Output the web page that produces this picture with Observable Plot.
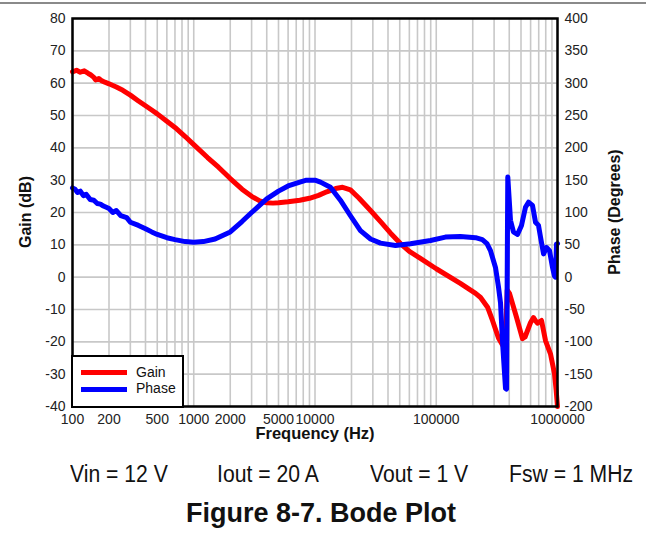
<!DOCTYPE html>
<html>
<head>
<meta charset="utf-8">
<script src="https://cdn.jsdelivr.net/npm/d3@7"></script>
<script src="https://cdn.jsdelivr.net/npm/@observablehq/plot@0.6"></script>
<style>
  html, body { margin: 0; padding: 0; background: #fff; }
  body { width: 646px; height: 533px; position: relative; overflow: hidden; font-family: "Liberation Sans", Arial, sans-serif; }
  #topline { position: absolute; left: 0; top: 2px; width: 646px; height: 2px; background: #8a8a8a; }
  #chart { position: absolute; left: 0; top: 0; }
  .ylab { position: absolute; font-weight: bold; font-size: 16px; color: #111; white-space: nowrap; transform: translate(-50%, -50%) rotate(-90deg); }
  #xlab { position: absolute; left: 315px; top: 433px; transform: translate(-50%, -50%); font-weight: bold; font-size: 16.5px; color: #111; white-space: nowrap; }
  .cond { position: absolute; top: 461px; font-size: 23px; color: #111; white-space: nowrap; transform: scaleX(0.92); transform-origin: left top; }
  #fig { position: absolute; left: 321px; top: 513px; transform: translate(-50%, -50%); font-weight: bold; font-size: 27px; color: #111; white-space: nowrap; }
  #legend { position: absolute; left: 71px; top: 355px; width: 109px; height: 49px; border: 2px solid #000; background: #fff; font-size: 14px; color: #111; }
  .lg { position: absolute; left: 8px; width: 46px; height: 5px; }
  .lt { position: absolute; left: 63px; }
</style>
</head>
<body>
<div id="topline"></div>
<div id="chart"></div>
<div class="ylab" style="left:26px; top:212px;">Gain (dB)</div>
<div class="ylab" style="left:615px; top:212px;">Phase (Degrees)</div>
<div id="xlab">Frequency (Hz)</div>
<div id="legend">
  <div class="lg" style="top:13px; background:#ff0000;"></div><div class="lt" style="top:7px;">Gain</div>
  <div class="lg" style="top:30px; background:#0000ff;"></div><div class="lt" style="top:23px;">Phase</div>
</div>
<div class="cond" style="left:70px;">Vin = 12 V</div>
<div class="cond" style="left:217px;">Iout = 20 A</div>
<div class="cond" style="left:370px;">Vout = 1 V</div>
<div class="cond" style="left:509px;">Fsw = 1 MHz</div>
<div id="fig">Figure 8-7. Bode Plot</div>
<script>
// ---- data ----
const gainFreq = [100,108,116,125,135,141,150,155,165,175,185,200,230,260,300,350,400,450,500,600,700,850,1000,1300,1600,2000,2500,3000,3500,4000,4500,5000,6000,7500,9000,10700,12500,14800,16900,19600,23000,28700,35000,42000,50700,60000,74000,100000,158000,211000,232000,265000,291000,326000,352000,372000,385000,402000,459000,514000,540000,566000,600000,634000,660000,684000,738000,796000,875000,944000,975000,1000000];
const gainDb   = [63.5,64.0,63.4,63.8,63.0,62.6,61.8,61.0,61.4,60.7,60.3,59.8,58.8,57.8,56.3,54.5,53.0,51.7,50.5,48.2,46.3,43.5,41.0,37.0,34.0,30.5,27.2,25.0,23.6,23.0,22.9,23.0,23.3,23.8,24.4,25.3,26.4,27.4,27.8,27.0,24.5,20.6,17.0,13.6,10.4,8.0,5.8,2.6,-1.9,-5.0,-6.3,-9.3,-13.4,-18.8,-21.0,-20.0,-4.0,-5.0,-12.4,-19.0,-18.5,-16.5,-14.0,-12.5,-13.5,-14.2,-13.4,-19.6,-23.7,-29.8,-35.0,-40.0];

const phaseFreq = [100,105,110,116,123,130,140,150,160,170,180,190,200,215,230,250,280,300,350,400,450,500,600,700,850,1000,1200,1500,2000,2500,3000,4000,5000,6000,7500,8500,10000,11100,13400,16200,19600,23700,28700,34700,46100,61300,89700,119000,158000,211000,240000,262000,280000,308000,326000,339000,352000,372500,380000,389000,409500,433300,467700,504700,544500,576600,622000,658800,697000,724400,767200,811700,859000,909800,944000,962000,981000,1000000];
const phaseDeg  = [138,136,131,133,126,128,120,119,114,113,110,108,106,100,103,95,92,85,80,75,70,66,61,58,55,54,55,59,70,86,100,121,133,141,147,150,150,147,139,119,95,72,59,52.6,49,51.6,56.7,62,63,61,58,52,41,15,-15,-40,-100,-172,-173,155,88,70,66,80,108,116,111,85,80,62,36,46,41,15,2,0,51,52];

const gainTicks  = [-40,-30,-20,-10,0,10,20,30,40,50,60,70,80];
const phaseTicks = [-200,-150,-100,-50,0,50,100,150,200,250,300,350,400];
const freqTicks  = [100,200,500,1000,2000,5000,10000,100000,1000000];
const decades    = [100,1000,10000,100000];
const gridFreqs  = decades.flatMap(d => [1,2,3,4,5,6,7,8,9].map(k => k*d)).concat([1000000]);

const gain  = gainFreq.map((f,i) => ({f, v: gainDb[i]}));
// phase plotted on the gain scale: 50 deg per 10 dB, zero aligned
const phase = phaseFreq.map((f,i) => ({f, v: phaseDeg[i] / 5}));

const chart = Plot.plot({
  width: 646,
  height: 450,
  marginLeft: 72,
  marginRight: 89,
  marginTop: 18,
  marginBottom: 44,
  style: {fontFamily: "'Liberation Sans', Arial, sans-serif", fontSize: "14px", color: "#222", background: "transparent"},
  x: {type: "log", domain: [100, 1000000], axis: null},
  y: {domain: [-40, 80]},
  marks: [
    Plot.gridX(gridFreqs, {stroke: "#c8c8c8", strokeWidth: 1.6, strokeOpacity: 1}),
    Plot.gridY(gainTicks, {stroke: "#c8c8c8", strokeWidth: 1.6, strokeOpacity: 1}),
    Plot.text(freqTicks, {x: d => d, frameAnchor: "bottom", dy: 17.5, text: d => String(d), fill: "#222", fontSize: 14}),
    Plot.axisY(gainTicks, {anchor: "left", tickSize: 0, tickPadding: 7, tickFormat: d => String(d), label: null}),
    Plot.axisY(phaseTicks.map(p => p / 5), {anchor: "right", tickSize: 0, tickPadding: 7, tickFormat: d => String(Math.round(d * 5)), label: null}),
    Plot.line(gain, {x: "f", y: "v", stroke: "#ff0000", strokeWidth: 5, strokeLinejoin: "round", strokeLinecap: "round"}),
    Plot.line(phase, {x: "f", y: "v", stroke: "#0000ff", strokeWidth: 5, strokeLinejoin: "round", strokeLinecap: "round"}),
    Plot.frame({stroke: "#000", strokeWidth: 2.5})
  ]
});
document.getElementById("chart").appendChild(chart);
</script>
</body>
</html>
